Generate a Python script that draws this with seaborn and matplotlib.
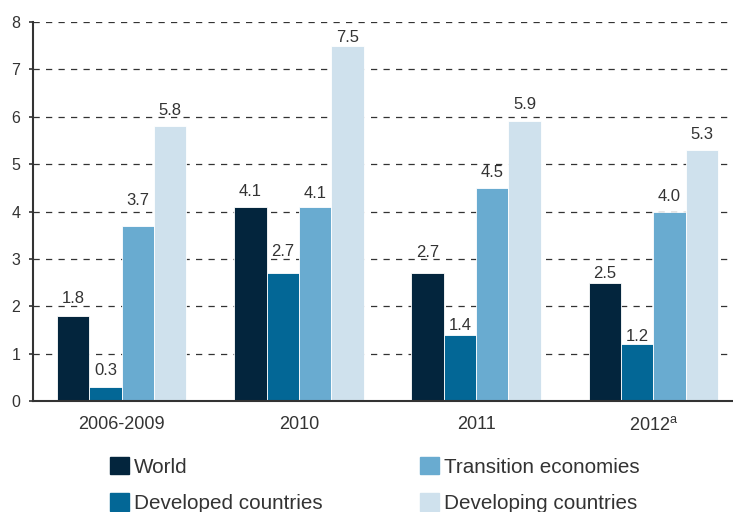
import numpy as np
import pandas as pd
import matplotlib
matplotlib.use("Agg")
import matplotlib.pyplot as plt
import seaborn as sns

# =========================
# Data
# =========================

periods = ["2006-2009", "2010", "2011", "2012"]
tick_labels = ["2006-2009", "2010", "2011", "2012$^{\\mathrm{a}}$"]
groups = ["World", "Developed countries", "Transition economies", "Developing countries"]

world = [1.8, 4.1, 2.7, 2.5]
developed = [0.3, 2.7, 1.4, 1.2]
transition = [3.7, 4.1, 4.5, 4.0]
developing = [5.8, 7.5, 5.9, 5.3]

# value labels were nudged by hand in the original to dodge gridlines
label_pad = [
    [6.8, 5.4, 9.7, 1.1],
    [6.1, 10.4, 1.1, 0.4],
    [12.6, 4.0, 5.4, 5.4],
    [6.1, 0.4, 6.8, 5.4],
]

df = pd.DataFrame({
    "period": periods * 4,
    "group": [g for g in groups for _ in periods],
    "value": world + developed + transition + developing,
})

palette = ["#03253d", "#036796", "#69abd0", "#cfe1ed"]
txt = "#333333"

# =========================
# Plot
# =========================

sns.set_theme(style="white")
plt.rcParams["font.family"] = ["Liberation Sans", "DejaVu Sans"]
plt.rcParams["mathtext.fontset"] = "custom"
plt.rcParams["mathtext.rm"] = "Liberation Sans"

fig = plt.figure(figsize=(7.33, 5.12), dpi=100)
ax = fig.add_axes([33 / 733, 1 - 401 / 512, 709 / 733, 379 / 512])

sns.barplot(data=df, x="period", y="value", hue="group", order=periods,
            hue_order=groups, palette=palette, saturation=1, width=0.73,
            edgecolor="white", linewidth=0.6, ax=ax)

# labels at the top of each bar, offset in points
for c, pads in zip(ax.containers, label_pad):
    for bar, p in zip(c.patches, pads):
        ax.annotate(f"{bar.get_height():.1f}",
                    (bar.get_x() + bar.get_width() / 2, bar.get_height()),
                    xytext=(0, p), textcoords="offset points",
                    ha="center", va="bottom", fontsize=12, color=txt)

ax.set_ylim(0, 8)
ax.set_xlim(-0.5, 3.5)
ax.set_yticks(range(0, 9))
ax.yaxis.grid(True, color="#333333", linestyle=(0, (5, 5)), linewidth=0.9)
ax.set_axisbelow(True)

ax.set_xticks(range(4))
ax.set_xticklabels(tick_labels)
ax.set_xticks(np.arange(-0.5, 3.0, 1.0), minor=True)
ax.tick_params(axis="x", which="major", length=0, pad=11, labelsize=13, labelcolor=txt)
ax.tick_params(axis="x", which="minor", length=5, width=1.2, color=txt, direction="out")
ax.tick_params(axis="y", length=3, width=1.2, color=txt, direction="out",
               left=True, pad=6, labelsize=11.5, labelcolor=txt)

for s in ["top", "right"]:
    ax.spines[s].set_visible(False)
for s in ["left", "bottom"]:
    ax.spines[s].set_color(txt)
    ax.spines[s].set_linewidth(1.5)

ax.set_xlabel("")
ax.set_ylabel("")
ax.get_legend().remove()

# =========================
# Legend
# =========================

handles = [plt.Rectangle((0, 0), 1, 1, color=c) for c in palette]
fig.legend(handles, groups, ncol=2, loc="upper left",
           bbox_to_anchor=(110 / 733, 1 - 457 / 512),
           frameon=False, fontsize=14.9, labelcolor=txt,
           handlelength=0.92, handleheight=0.92, handletextpad=0.25,
           columnspacing=4.7, labelspacing=0.79,
           borderpad=0, borderaxespad=0)

fig.savefig("out.png", dpi=100)
